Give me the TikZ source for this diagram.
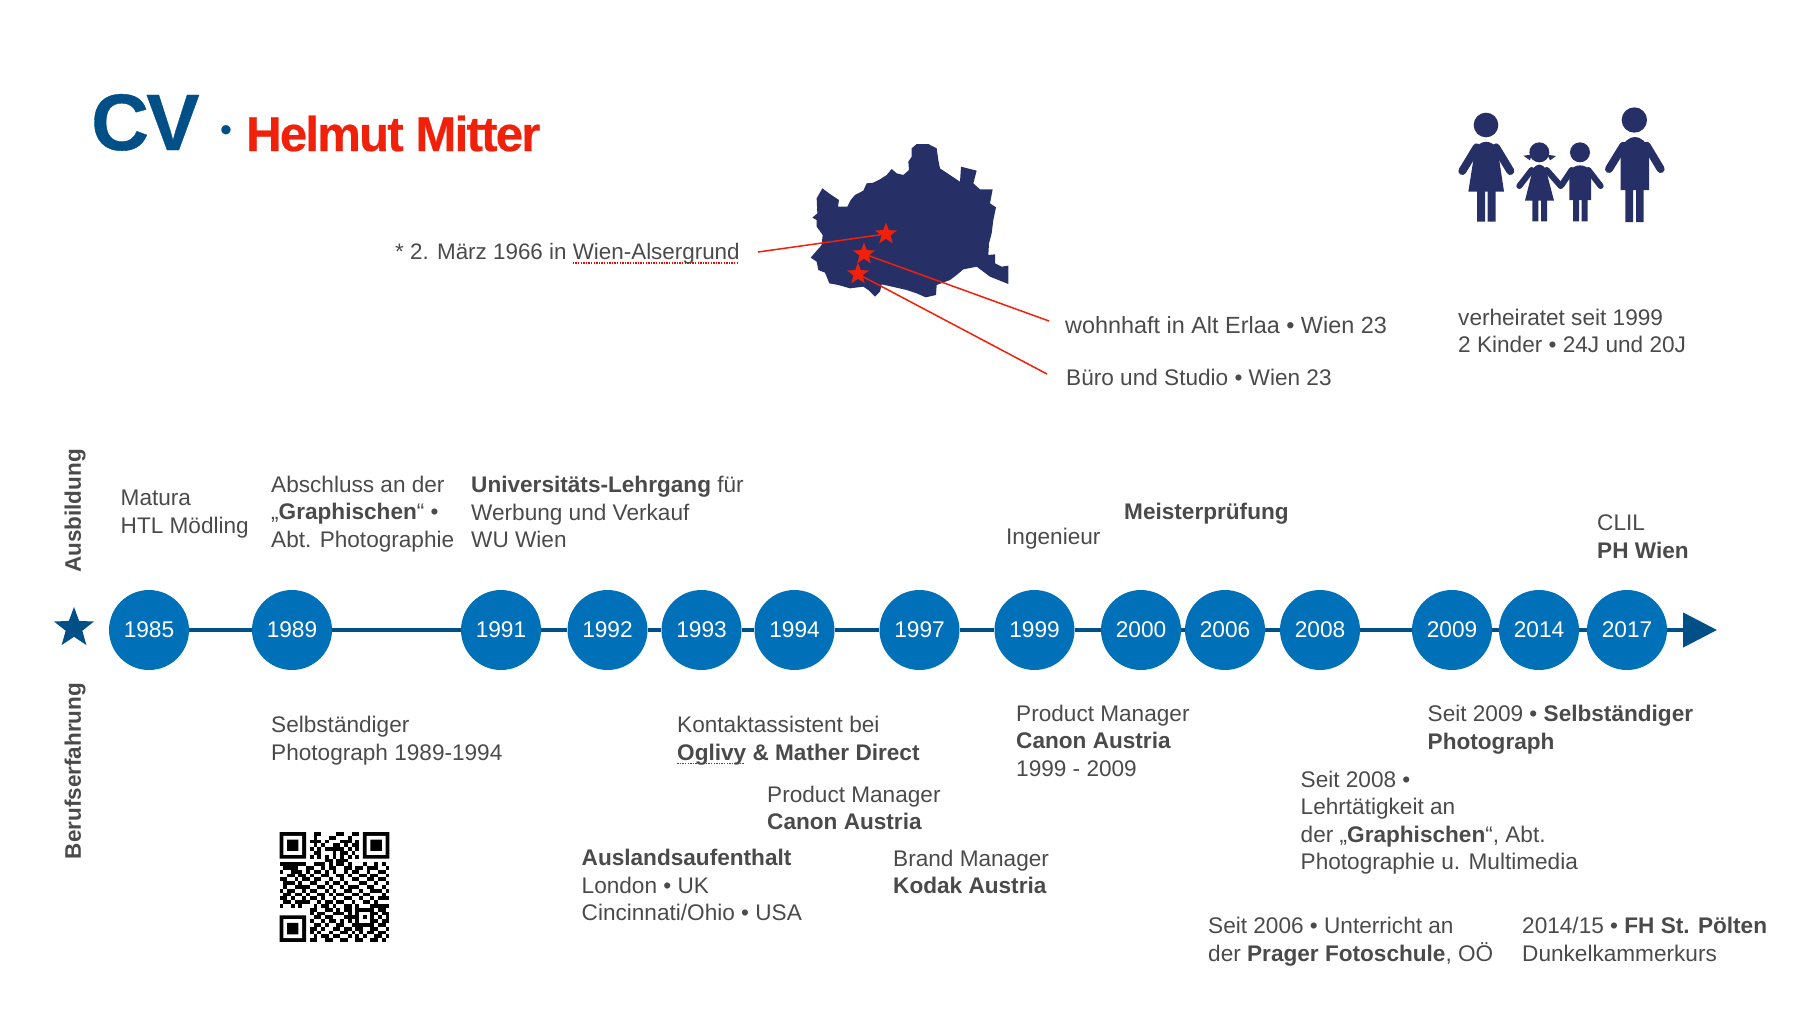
\documentclass[tikz,border=0pt]{standalone}
\usepackage{xcolor}
\usepackage{fontspec}
\usepackage{tikz}
\usetikzlibrary{arrows.meta, shapes.geometric}
\setmainfont{Liberation Sans}
\newfontfamily\titlefont[LetterSpace=-3.5,BoldFeatures={FakeBold=0.5}]{Liberation Sans}
\definecolor{cvblue}{HTML}{004F86}
\definecolor{yearblue}{HTML}{0070B8}
\definecolor{mapnavy}{HTML}{262F66}
\definecolor{signalred}{HTML}{F0200A}
\definecolor{textgray}{HTML}{4A4A4A}
\newcommand{\spellmark}[1]{\setbox0\hbox{#1}\rlap{\raisebox{-4pt}{\textcolor{red}{\hbox to \wd0{\leaders\hbox{\rule{1.3pt}{1.3pt}\kern1.3pt}\hfill}}}}#1}

\begin{document}
\begin{tikzpicture}[x=1pt, y=-1pt]
% style: year_style
\tikzstyle{year_style}=[circle,fill=yearblue,text=white,minimum size=80pt,inner sep=0pt,font=\fontsize{22.7}{27.5}\selectfont]
% style: text_style
\tikzstyle{text_style}=[anchor=west,align=left,inner sep=0pt,text=textgray,font=\fontsize{22.6}{27.5}\selectfont]
% style: side_style
\tikzstyle{side_style}=[inner sep=0pt,text=textgray,font=\fontsize{22.5}{27.5}\selectfont\bfseries]
% style: timeline_style
\tikzstyle{timeline_style}=[cvblue,line width=4.5pt]
% style: pointer_style
\tikzstyle{pointer_style}=[signalred,line width=1.5pt]
% style: place_style
\tikzstyle{place_style}=[star,star points=5,star point ratio=2.4,fill=signalred,minimum size=23pt,inner sep=0pt]

\useasboundingbox (0,0) rectangle (1800,1013);

% node group: title_group
\node[anchor=base west,inner sep=0pt,text=cvblue,font=\fontsize{80}{80}\titlefont\bfseries] (title_cv) at (91,150) {CV};
\node[inner sep=0pt,text=cvblue,font=\fontsize{34}{34}\selectfont] (title_dot) at (226,134) {•};
\node[anchor=base west,inner sep=0pt,text=signalred,font=\fontsize{49}{49}\titlefont\bfseries] (title_name) at (246,151) {Helmut Mitter};
% end of node group: title_group

% map of the city
\begin{scope}[shift={(760,120)},scale=1/3]
\fill[mapnavy] (187,205) -- (210,222) -- (237,240) -- (234,260) -- (262,260) -- (272,240) -- (285,225) -- (310,212) -- (320,190) -- (340,188) -- (360,178) -- (380,165) -- (395,147) -- (410,160) -- (430,165) -- (447,150) -- (445,125) -- (455,110) -- (455,85) -- (470,72) -- (505,72) -- (530,85) -- (535,120) -- (540,145) -- (570,165) -- (600,185) -- (603,140) -- (650,152) -- (640,190) -- (660,208) -- (698,208) -- (690,250) -- (708,262) -- (700,300) -- (695,340) -- (687,370) -- (685,405) -- (705,403) -- (705,430) -- (725,440) -- (745,437) -- (745,492) -- (690,470) -- (670,455) -- (650,440) -- (610,448) -- (590,465) -- (570,480) -- (530,495) -- (528,525) -- (497,532) -- (470,520) -- (440,510) -- (365,493) -- (360,515) -- (345,530) -- (325,510) -- (310,500) -- (270,505) -- (235,495) -- (208,490) -- (195,458) -- (175,450) -- (170,425) -- (152,413) -- (185,375) -- (188,345) -- (170,320) -- (170,300) -- (157,293) -- (172,280) -- (170,235) -- cycle;
\end{scope}

% node group: place_group
\node[place_style] (star_birth) at (886,234) {};
\node[place_style] (star_home) at (864,254) {};
\node[place_style] (star_office) at (858,274) {};
\coordinate (birth_end) at (758,252);
\coordinate (home_end) at (1049,321);
\coordinate (office_end) at (1047,374);
\node[text_style,font=\fontsize{22.4}{27.5}\selectfont] (birth) at (395,254) {* 2. März 1966 in \spellmark{Wien-Alsergrund}};
\node[text_style,font=\fontsize{23.4}{27.5}\selectfont] (home) at (1065,325) {wohnhaft in Alt Erlaa • Wien 23};
\node[text_style] (office) at (1066,377) {Büro und Studio • Wien 23};
% end of node group: place_group

% edge from birth_end to star_birth
\draw[pointer_style] (birth_end) -- (star_birth);
% edge from home_end to star_home
\draw[pointer_style] (home_end) -- (star_home);
% edge from office_end to star_office
\draw[pointer_style] (office_end) -- (star_office);

% family
\begin{scope}[shift={(1430,90)},scale=1/3,mapnavy]
% mother
\fill (168,105) circle (37);
\fill (115,305) -- (135,178) .. controls (150,148) and (186,148) .. (203,178) -- (222,305) -- cycle;
\draw[line width=8pt,line cap=round] (140,172) -- (97,243) (198,172) -- (241,243);
\fill (141,300) rectangle (165,395) (173,300) rectangle (197,395);
% girl
\fill (328,187) circle (30);
\fill (280,197) -- (305,194) -- (300,211) -- cycle (352,194) -- (378,198) -- (360,211) -- cycle;
\fill (285,332) -- (308,240) .. controls (318,218) and (338,218) .. (348,240) -- (372,332) -- cycle;
\draw[line width=6pt,line cap=round] (305,240) -- (268,288) (350,240) -- (392,288);
\fill (307,328) rectangle (325,394) (333,328) rectangle (351,394);
% boy
\fill (450,187) circle (30);
\fill (418,330) -- (418,250) .. controls (425,218) and (475,218) .. (483,250) -- (483,330) -- cycle;
\draw[line width=6pt,line cap=round] (425,240) -- (395,285) (475,240) -- (512,288);
\fill (429,328) rectangle (447,394) (455,328) rectangle (473,394);
% father
\fill (613,90) circle (38);
\fill (572,300) -- (572,180) .. controls (590,128) and (640,128) .. (657,180) -- (657,300) -- cycle;
\draw[line width=8pt,line cap=round] (580,167) -- (537,237) (650,167) -- (692,237);
\fill (586,296) rectangle (609,396) (618,296) rectangle (641,396);
\end{scope}

% node: family
\node[text_style] (family) at (1458,331) {verheiratet seit 1999\\2 Kinder • 24J und 20J};

% node group: year_group
\node[star,star points=5,star point ratio=2.4,fill=cvblue,minimum size=42pt,inner sep=0pt] (birth_star) at (74,628) {};
\node[year_style] (year_1985) at (149,630) {1985};
\node[year_style] (year_1989) at (292,630) {1989};
\node[year_style] (year_1991) at (501,630) {1991};
\node[year_style] (year_1992) at (607.5,630) {1992};
\node[year_style] (year_1993) at (701.5,630) {1993};
\node[year_style] (year_1994) at (794.5,630) {1994};
\node[year_style] (year_1997) at (919.5,630) {1997};
\node[year_style] (year_1999) at (1034.5,630) {1999};
\node[year_style] (year_2000) at (1141,630) {2000};
\node[year_style] (year_2006) at (1225,630) {2006};
\node[year_style] (year_2008) at (1320,630) {2008};
\node[year_style] (year_2009) at (1452,630) {2009};
\node[year_style] (year_2014) at (1539,630) {2014};
\node[year_style] (year_2017) at (1627,630) {2017};
\coordinate (timeline_end) at (1717,630);
% end of node group: year_group

% edges along the timeline
\draw[timeline_style] (year_1985) -- (year_1989);
\draw[timeline_style] (year_1989) -- (year_1991);
\draw[timeline_style] (year_1991) -- (year_1992);
\draw[timeline_style] (year_1992) -- (year_1993);
\draw[timeline_style] (year_1993) -- (year_1994);
\draw[timeline_style] (year_1994) -- (year_1997);
\draw[timeline_style] (year_1997) -- (year_1999);
\draw[timeline_style] (year_1999) -- (year_2000);
\draw[timeline_style] (year_2000) -- (year_2006);
\draw[timeline_style] (year_2006) -- (year_2008);
\draw[timeline_style] (year_2008) -- (year_2009);
\draw[timeline_style] (year_2009) -- (year_2014);
\draw[timeline_style] (year_2014) -- (year_2017);
\draw[timeline_style,-{Triangle[length=34pt,width=34pt]}] (year_2017) -- (timeline_end);

% node group: side_group
\node[side_style,rotate=90] (side_top) at (75,511) {Ausbildung};
\node[side_style,rotate=90] (side_bottom) at (75,771) {Berufserfahrung};
% end of node group: side_group

% node group: upper_group
\node[text_style] (matura) at (120.5,514) {Matura\\HTL Mödling};
\node[text_style] (graphische) at (271,514) {Abschluss an der\\„\textbf{Graphischen}“ •\\Abt. Photographie};
\node[text_style] (lehrgang) at (471,512) {\textbf{Universitäts-Lehrgang} für\\Werbung und Verkauf\\WU Wien};
\node[text_style] (ingenieur) at (1006,539) {Ingenieur};
\node[text_style] (meister) at (1124,514) {\textbf{Meisterprüfung}};
\node[text_style] (clil) at (1597,536.5) {CLIL\\\textbf{PH Wien}};
% end of node group: upper_group

% node group: lower_group
\node[text_style] (selbst_1989) at (271,740.5) {Selbständiger\\Photograph 1989-1994};
\node[text_style] (kontakt) at (677,740.5) {Kontaktassistent bei\\\textbf{\spellmark{Oglivy} \& Mather Direct}};
\node[text_style] (canon_1994) at (767,808) {Product Manager\\\textbf{Canon Austria}};
\node[text_style] (ausland) at (581.5,885) {\textbf{Auslandsaufenthalt}\\London • UK\\Cincinnati/Ohio • USA};
\node[text_style] (kodak) at (893,872) {Brand Manager\\\textbf{Kodak Austria}};
\node[text_style] (canon_1999) at (1016,740.5) {Product Manager\\\textbf{Canon Austria}\\1999 - 2009};
\node[text_style] (selbst_2009) at (1427.5,729.5) {Seit 2009 • \textbf{Selbständiger}\\\textbf{Photograph}};
\node[text_style] (lehre_2008) at (1300.5,822.5) {Seit 2008 •\\Lehrtätigkeit an\\der „\textbf{Graphischen}“, Abt.\\Photographie u. Multimedia};
\node[text_style] (prager) at (1208,941.5) {Seit 2006 • Unterricht an\\der \textbf{Prager Fotoschule}, OÖ};
\node[text_style] (poelten) at (1522,939.5) {2014/15 • \textbf{FH St. Pölten}\\Dunkelkammerkurs};
% end of node group: lower_group

% qr code
\begin{scope}[shift={(279.5,832)},scale=3.79]
\fill (0,0) rectangle (7,7) (22,0) rectangle (29,7) (0,22) rectangle (7,29);
\fill[white] (1,1) rectangle (6,6) (23,1) rectangle (28,6) (1,23) rectangle (6,28);
\fill (2,2) rectangle (5,5) (24,2) rectangle (27,5) (2,24) rectangle (5,27);
\fill (20,20) rectangle (25,25);
\fill[white] (21,21) rectangle (24,24);
\fill (22,22) rectangle (23,23);
\foreach \qrrow/\qrcols in {0/{9,10,15,16,19,20},1/{9,13,14,18},2/{8,9,10,12,16,17,18,20},3/{9,11,14,15,17,19,20},4/{8,10,12,13,14,15,16,18,20},5/{9,10,14,16,17,19},6/{8,10,12,14,16,18,20},7/{12,13,15,16,17},8/{0,1,2,3,4,5,6,9,10,11,13,15,16,18,22,25,27},9/{1,2,3,4,7,8,11,13,14,17,18,20,21,23,24,25,28},10/{0,3,4,5,7,9,10,12,14,17,19,20,23,26,27},11/{2,3,5,6,8,11,12,15,16,18,21,22,24,25,28},12/{0,1,4,6,7,9,10,13,16,19,20,23,24,26,27},13/{1,2,3,5,8,9,12,14,15,17,21,22,25,28},14/{1,4,5,6,7,10,11,13,16,18,19,20,23,24,27},15/{0,2,3,6,8,9,12,14,17,18,21,24,25,26,28},16/{1,2,4,5,7,10,11,13,15,16,19,20,22,23,27},17/{0,1,3,6,8,9,11,14,17,18,21,24,26,27,28},18/{1,2,4,5,6,7,10,12,13,15,16,19,22,23,25},19/{0,3,5,9,11,12,14,17,18,20,24,25,26,27,28},20/{8,9,12,13,15,17,18,26,27},21/{8,10,11,14,15,16,18,25,27,28},22/{9,10,12,13,17,18,19,26,28},23/{8,11,13,14,16,18,25,27,28},24/{9,10,12,15,16,19,26,27},25/{8,9,11,14,15,17,18,20,21,24,25,28},26/{8,10,13,16,17,19,21,23,24,26,27},27/{9,11,12,14,15,18,20,22,25,26,28},28/{8,9,12,13,16,17,20,21,24,25,27}}
  \foreach \qrcol in \qrcols
    \fill (\qrcol,\qrrow) rectangle ++(1,1);
\end{scope}

\end{tikzpicture}
\end{document}
